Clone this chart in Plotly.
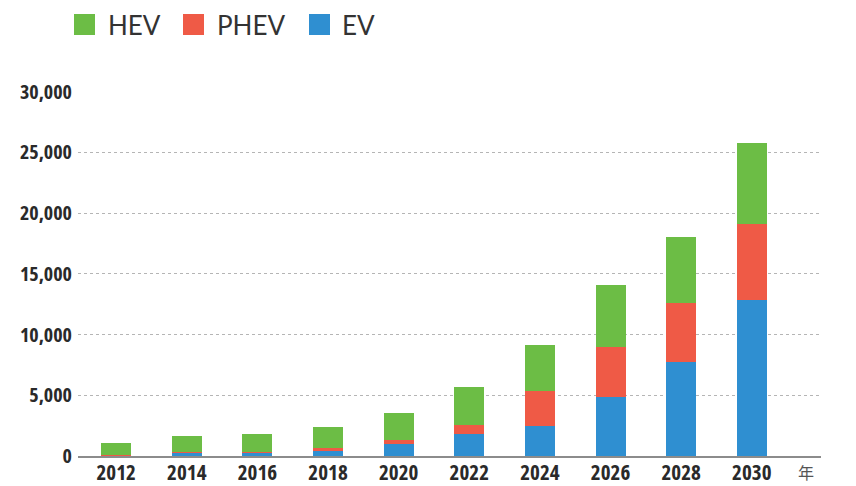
import plotly.graph_objects as go

# Vehicle sales by powertrain (stacked), 2012–2030
years = ["2012", "2014", "2016", "2018", "2020", "2022", "2024", "2026", "2028", "2030"]
ev = [40, 310, 310, 450, 960, 1850, 2450, 4900, 7760, 12880]
phev = [10, 30, 40, 190, 360, 740, 2940, 4090, 4880, 6240]
hev = [1030, 1330, 1490, 1770, 2230, 3070, 3760, 5060, 5420, 6640]
y_ticks = [0, 5000, 10000, 15000, 20000, 25000, 30000]

GREEN = "#6cbd45"
RED = "#ef5a46"
BLUE = "#2f8fd1"

W, H = 856, 486
ML, MR, MT, MB = 78, 35, 91, 30
PW, PH = W - ML - MR, H - MT - MB


def px_x(p):
    return (p - ML) / PW


def px_y(p):
    return (H - MB - p) / PH


fig = go.Figure()
for name, vals, col in [("EV", ev, BLUE), ("PHEV", phev, RED), ("HEV", hev, GREEN)]:
    fig.add_trace(go.Bar(x=years, y=vals, name=name, marker=dict(color=col, line=dict(width=0)),
                         width=0.425, showlegend=False))

y_font = dict(family="Open Sans", size=20, color="#2a2a2a", weight="bold")
x_font = dict(family="Open Sans", size=21, color="#2a2a2a", weight="bold")

fig.update_layout(
    width=W, height=H,
    margin=dict(l=ML, r=MR, t=MT, b=MB, autoexpand=False),
    paper_bgcolor="white", plot_bgcolor="white",
    barmode="stack", bargap=0,
    showlegend=False,
    xaxis=dict(type="category", range=[-0.54, 9.98], showgrid=False, zeroline=False,
               showline=True, linecolor="#8c8c8c", linewidth=2, ticks="", automargin=False,
               tickfont=x_font, ticklabelstandoff=-3),
    yaxis=dict(range=[0, 30060], tickvals=y_ticks, tickformat=",d", showgrid=True,
               gridcolor="#b5b5b5", griddash="dot", gridwidth=1, zeroline=False,
               showline=False, ticks="", automargin=False, tickfont=y_font,
               ticklabelstandoff=5),
)

# Unit label at the end of the category axis
fig.add_annotation(x=px_x(806), y=px_y(472), xref="paper", yref="paper", text="年",
                   showarrow=False, xanchor="center", yanchor="middle",
                   font=dict(family="Noto Sans CJK JP", size=16, color="#555555"))

# Legend drawn as swatches with labels above the plot
legend_items = [("HEV", GREEN, 74, 106), ("PHEV", RED, 183, 215), ("EV", BLUE, 309, 340)]
for label, col, sx, tx in legend_items:
    fig.add_shape(type="rect", xref="paper", yref="paper",
                  x0=px_x(sx), x1=px_x(sx + 21), y0=px_y(35), y1=px_y(14),
                  fillcolor=col, line=dict(width=0))
    fig.add_annotation(x=px_x(tx), y=px_y(25), xref="paper", yref="paper", text=label,
                       showarrow=False, xanchor="left", yanchor="middle",
                       font=dict(family="Lato, sans-serif", size=26, color="#333333"))

# Condensed width for the axis tick labels
css = ".xtick text, .ytick text { font-stretch: 75%; }"
fig.write_html("out.html", post_script=(
    "var s=document.createElement('style');s.textContent='" + css + "';"
    "document.head.appendChild(s);"))
